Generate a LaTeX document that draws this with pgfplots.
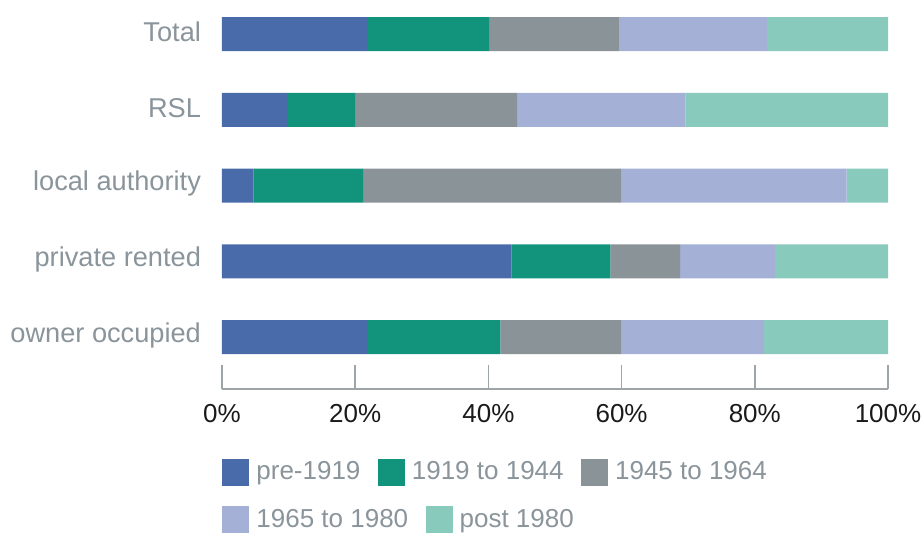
\documentclass[border=0pt]{standalone}
\usepackage{fontspec}
\setmainfont{Liberation Sans}
\usepackage{pgfplots}
\pgfplotsset{compat=1.18}

\definecolor{cA}{HTML}{4A6BAA}
\definecolor{cB}{HTML}{12937C}
\definecolor{cC}{HTML}{8A9498}
\definecolor{cD}{HTML}{A4B0D6}
\definecolor{cE}{HTML}{88CABC}
\definecolor{labgray}{HTML}{8A949B}
\definecolor{axgray}{HTML}{9EA5A9}
\definecolor{tickblack}{HTML}{1A1A1A}

\pgfplotsset{
  sq/.style={draw=none,
    legend image code/.code={\fill[##1] (0pt,-6.75pt) rectangle (13.5pt,6.75pt);}},
  leg/.style={legend style={draw=none, fill=none, inner sep=0pt,
      anchor=north west, legend columns=-1,
      font=\fontsize{13}{15}\selectfont, text=labgray,
      /tikz/every odd column/.append style={column sep=1.5pt},
      /tikz/every even column/.append style={column sep=6.7pt}},
    legend cell align=left},
}

\begin{document}
\begin{tikzpicture}
\useasboundingbox (-111pt,-71.5pt) rectangle (351pt,194.5pt);
\begin{axis}[
  xbar stacked,
  scale only axis, width=333pt, height=194.5pt,
  xmin=0, xmax=100, ymin=-0.686, ymax=4.449,
  bar width=17pt,
  axis x line*=bottom, axis y line*=left,
  x axis line style={draw=axgray, line width=0.8pt},
  y axis line style={draw=none},
  xtick={0,20,...,100}, tick align=inside, major tick length=12pt,
  x tick style={draw=axgray, line width=0.8pt},
  y tick style={draw=none},
  ytick={0,1,2,3,4},
  yticklabels={owner occupied, private rented, local authority, RSL, Total},
  xticklabel={\pgfmathprintnumber{\tick}\%},
  /pgf/number format/assume math mode=true,
  x tick label style={font=\fontsize{13}{15}\selectfont, text=tickblack, yshift=-4pt},
  y tick label style={font=\fontsize{13.6}{15}\selectfont, text=labgray, xshift=-7pt, yshift=1pt},
  leg, legend style={at={(0,-0.175)}},
]
\addplot[sq, fill=cA] coordinates {(21.9,4) (9.9,3) (4.7,2) (43.5,1) (21.9,0)};
\addplot[sq, fill=cB] coordinates {(18.2,4) (10.1,3) (16.5,2) (14.8,1) (19.9,0)};
\addplot[sq, fill=cC] coordinates {(19.5,4) (24.3,3) (38.8,2) (10.5,1) (18.2,0)};
\addplot[sq, fill=cD, forget plot] coordinates {(22.2,4) (25.3,3) (33.8,2) (14.2,1) (21.4,0)};
\addplot[sq, fill=cE, forget plot] coordinates {(18.2,4) (30.4,3) (6.2,2) (17.0,1) (18.6,0)};
\legend{pre-1919, 1919 to 1944, 1945 to 1964}
\end{axis}
\begin{axis}[
  scale only axis, width=333pt, height=194.5pt,
  hide axis, xmin=0, xmax=100, ymin=0, ymax=1,
  leg, legend style={at={(0,-0.298)}},
]
\addlegendimage{sq, fill=cD}
\addlegendentry{1965 to 1980}
\addlegendimage{sq, fill=cE}
\addlegendentry{post 1980}
\end{axis}
\end{tikzpicture}
\end{document}
